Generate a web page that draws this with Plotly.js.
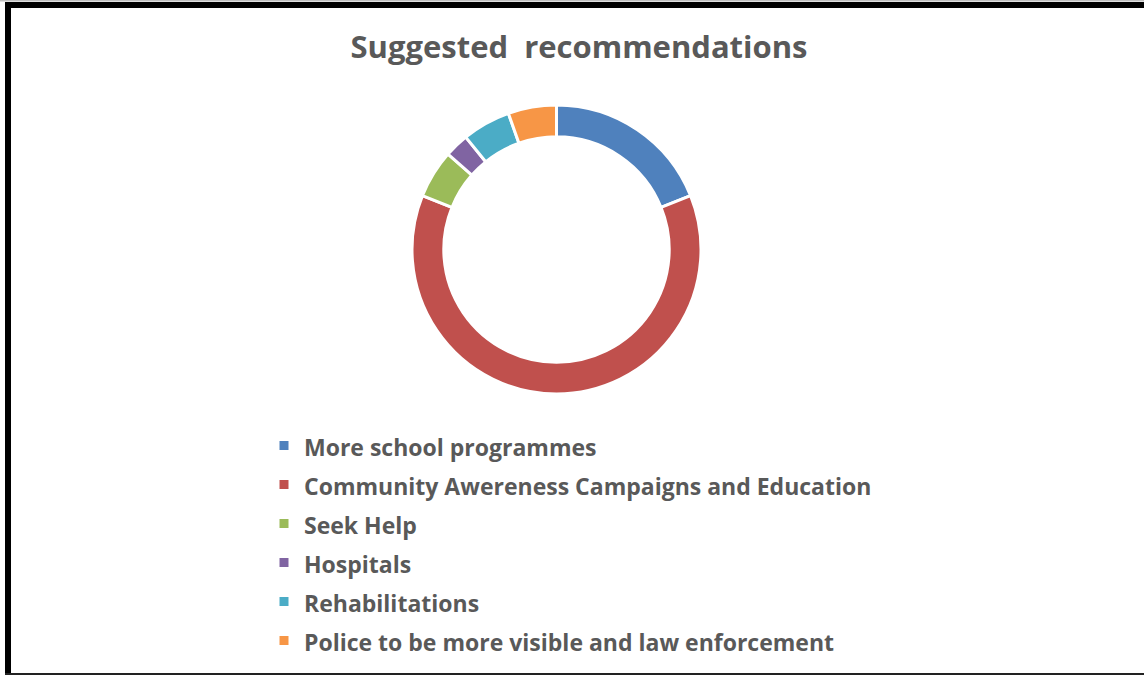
<!DOCTYPE html>
<html>
<head>
<meta charset="utf-8">
<script src="https://cdn.plot.ly/plotly-3.0.1.min.js"></script>
<style>
  html, body { margin: 0; padding: 0; background: #ffffff; }
  #chart { width: 1144px; height: 675px; }
</style>
</head>
<body>
<div id="chart"></div>
<script>
const categories = [
  "More school programmes",
  "Community Awereness Campaigns and Education",
  "Seek Help",
  "Hospitals",
  "Rehabilitations",
  "Police to be more visible and law enforcement"
];
const values = [7, 23, 2, 1, 2, 2];
const colors = ["#4F81BD", "#C0504D", "#9BBB59", "#8064A2", "#4BACC6", "#F79646"];
const chartTitle = "Suggested\u00A0 recommendations";

const W = 1144, H = 675;
const px = v => v / W;
const py = v => 1 - v / H;

// legend rows are spaced by the legend font size; the visible label text is set smaller
const legendLabels = categories.map(c => '<span style="font-size:23px">' + c + '</span>');

const trace = {
  type: "pie",
  labels: legendLabels,
  values: values,
  marker: { colors: colors, line: { color: "#ffffff", width: 3 } },
  hole: 0.78,
  sort: false,
  direction: "clockwise",
  rotation: 0,
  textinfo: "none",
  hoverinfo: "label+value+percent",
  domain: { x: [px(412), px(701)], y: [py(394), py(105)] }
};

const textColor = "#595959";
const fontFam = "'Open Sans', 'Liberation Sans', sans-serif";

const layout = {
  width: W,
  height: H,
  margin: { l: 0, r: 0, t: 0, b: 0 },
  paper_bgcolor: "#ffffff",
  plot_bgcolor: "#ffffff",
  title: {
    text: chartTitle,
    font: { family: fontFam, size: 31, color: textColor, weight: 700 },
    x: px(579), xanchor: "center", xref: "paper",
    y: py(47), yanchor: "middle", yref: "container"
  },
  showlegend: true,
  legend: {
    x: px(264), xanchor: "left",
    y: py(421), yanchor: "top",
    orientation: "v",
    font: { family: fontFam, size: 27.7, color: textColor, weight: 700 },
    bgcolor: "rgba(0,0,0,0)",
    borderwidth: 0
  },
  shapes: [
    { type: "rect", xref: "paper", yref: "paper", x0: px(0), x1: px(W), y0: py(0), y1: py(1.5),
      fillcolor: "#bfbfbf", line: { width: 0 } },
    { type: "rect", xref: "paper", yref: "paper", x0: px(5), x1: px(W), y0: py(2), y1: py(8),
      fillcolor: "#000000", line: { width: 0 } },
    { type: "rect", xref: "paper", yref: "paper", x0: px(5), x1: px(11), y0: py(2), y1: py(675),
      fillcolor: "#000000", line: { width: 0 } },
    { type: "rect", xref: "paper", yref: "paper", x0: px(5), x1: px(W), y0: py(673), y1: py(675),
      fillcolor: "#222222", line: { width: 0 } }
  ]
};

Plotly.newPlot("chart", [trace], layout, { displayModeBar: false, staticPlot: true });
</script>
</body>
</html>
